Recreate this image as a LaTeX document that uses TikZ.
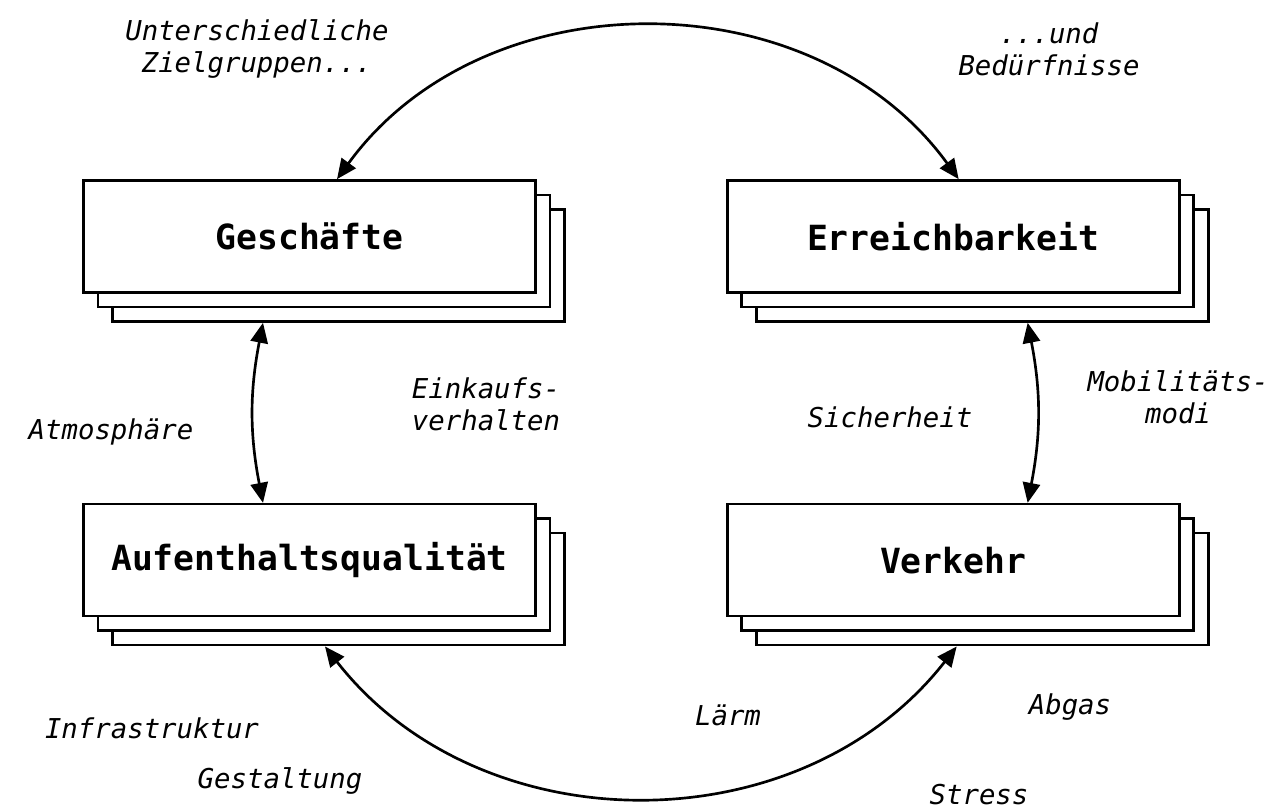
\documentclass[tikz,border=0pt]{standalone}
\usepackage{fontspec}
\setmonofont{DejaVu Sans Mono}
\usetikzlibrary{positioning,calc,shadows,arrows.meta}

\begin{document}
\begin{tikzpicture}[x=0.75pt, y=0.75pt, <->, >={Triangle[length=15pt,width=13pt]}, line width=2pt,
	stack/.style={draw, fill=white, minimum width=339pt, minimum height=84pt,
		font=\ttfamily\bfseries\fontsize{26}{30}\selectfont,
		copy shadow={shadow xshift=21.75pt, shadow yshift=-21.75pt, line width=2pt},
		copy shadow={shadow xshift=10.9pt, shadow yshift=-10.9pt, line width=2pt}},
	note/.style={font=\ttfamily\itshape\fontsize{20.5}{24}\selectfont, align=center}]
	\useasboundingbox (0,0) rectangle (1288,812);
	\node [stack] (ges) at (309.5,575.5) {Geschäfte};
	\node [stack] (err) [right=141.75pt of ges] {Erreichbarkeit};
	\node [stack] (auf) [below=156.75pt of ges] {Aufenthaltsqualität};
	\node [stack] (ver) [right=141.75pt of auf] {Verkehr};
	\node [note] (zielgr) at (257,763) {Unterschiedliche\\Zielgruppen...};
	\node [note] (beduerf) at (1049,763) {...und\\Bedürfnisse};
	\node [note] (atmo) at (111,380) {Atmosphäre};
	\node [note] (einkauf) at (486,408) {Einkaufs-\\verhalten};
	\node [note] (sicher) at (890,395) {Sicherheit};
	\node [note] (modi) at (1178,415) {Mobilitäts-\\modi};
	\node [note] (infra) at (152,84) {Infrastruktur};
	\node [note] (gestalt) at (280,31) {Gestaltung};
	\node [note] (laerm) at (728,97) {Lärm};
	\node [note] (abgas) at (1070,105) {Abgas};
	\node [note, inner sep=1pt] (stress) at (979,17) {Stress};
	% Verbindungen
	\draw ($(ges.north)+(27.5,0)$) to[bend left=54, looseness=1.03] ($(err.north)+(5.5,0)$);
	\draw ($(ges.south)+(-46.5,-29)$) to[bend right=11] ($(auf.north)+(-46.5,0)$);
	\draw ($(err.south)+(74.5,-29)$) to[bend left=11] ($(ver.north)+(74.5,0)$);
	\draw ($(auf.south)+(15.5,-29)$) to[bend right=52, looseness=1.03] ($(ver.south)+(3.5,-29)$);
\end{tikzpicture}
\end{document}
